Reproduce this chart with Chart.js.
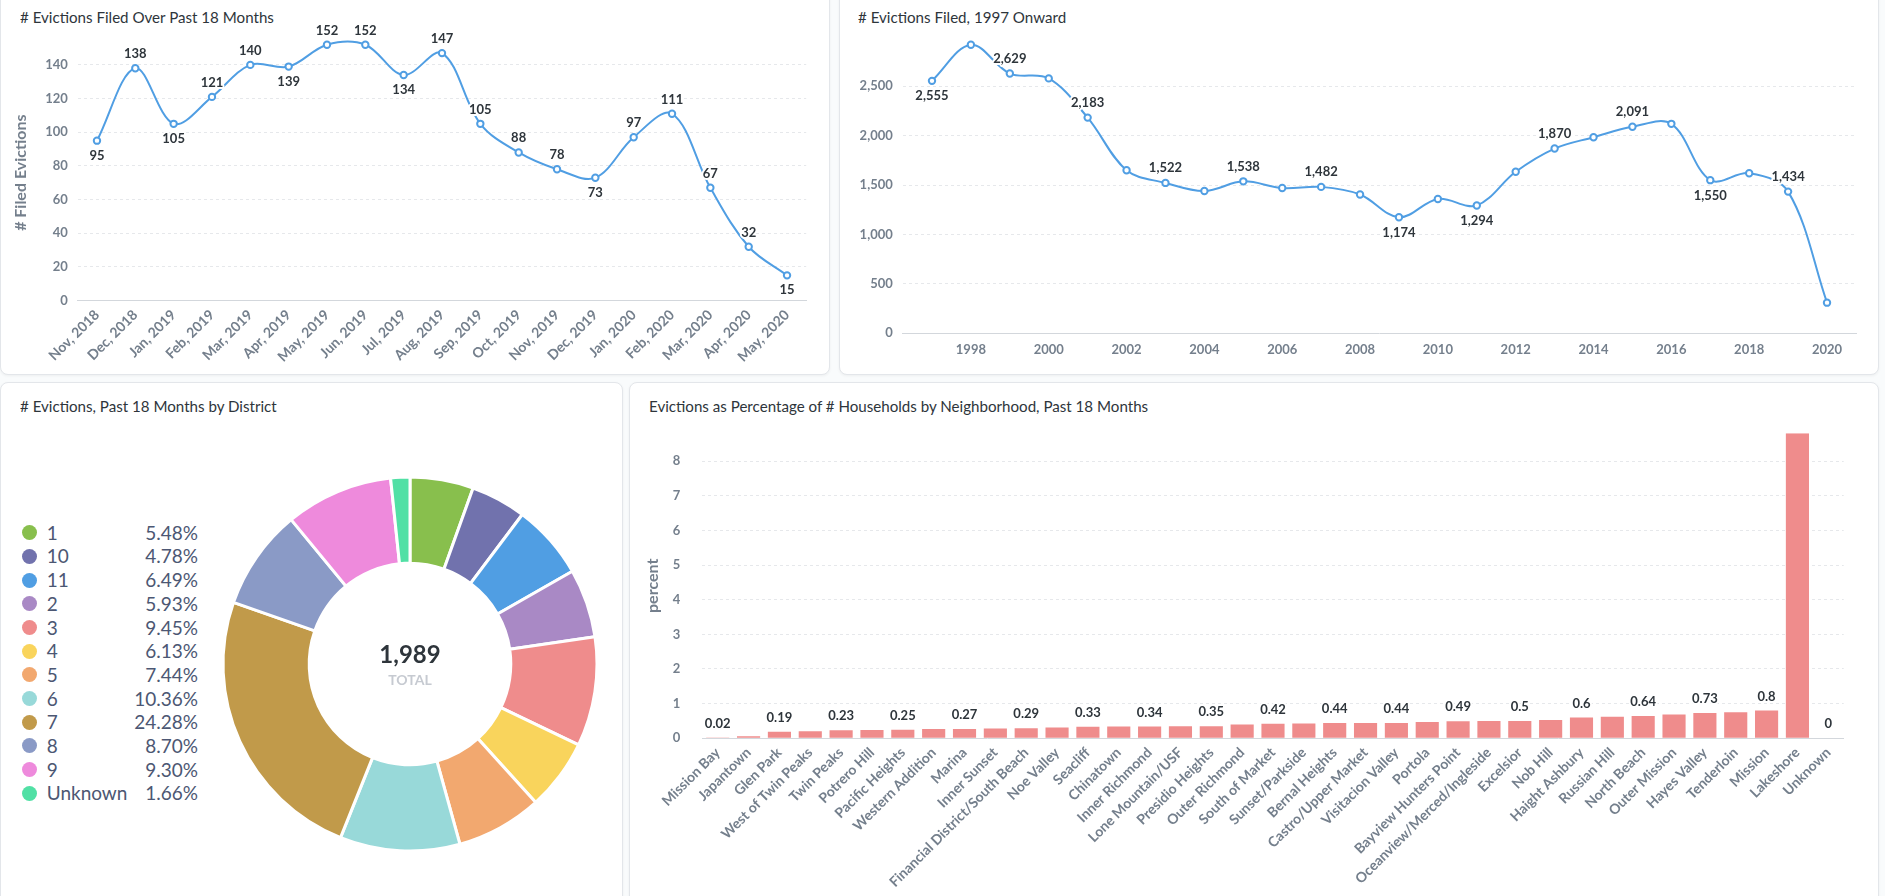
<!DOCTYPE html>
<html>
<head>
<meta charset="utf-8">
<script src="https://cdn.jsdelivr.net/npm/chart.js@4.4.1/dist/chart.umd.min.js"></script>
<style>
html,body{margin:0;padding:0;width:1885px;height:896px;overflow:hidden;background:#f9fbfc;font-family:Lato,"Noto Sans",sans-serif;}
.card{position:absolute;background:#fff;border:1px solid #e3e6ea;border-radius:8px;box-shadow:0 1px 3px rgba(0,0,0,0.05);box-sizing:border-box;}
.title{position:absolute;font-size:16px;line-height:18px;color:#2e353b;white-space:nowrap;transform:scaleX(0.945);transform-origin:0 50%;}
canvas{position:absolute;}
#legend{position:absolute;left:0;top:520.8px;width:198px;}
.row{position:relative;height:23.7px;line-height:23.7px;font-size:19px;color:#4c5773;}
.dot{position:absolute;left:21.5px;top:4.35px;width:15px;height:15px;border-radius:50%;}
.lab{position:absolute;left:46.7px;}
.pct{position:absolute;right:0;}
</style>
</head>
<body>
<div class="card" style="left:0;top:-8px;width:830px;height:383px;"></div>
<div class="card" style="left:839px;top:-8px;width:1040px;height:383px;"></div>
<div class="card" style="left:0;top:382px;width:623px;height:530px;"></div>
<div class="card" style="left:629px;top:382px;width:1250px;height:530px;"></div>

<div class="title" style="left:20px;top:8px;"># Evictions Filed Over Past 18 Months</div>
<div class="title" style="left:858px;top:8px;"># Evictions Filed, 1997 Onward</div>
<div class="title" style="left:20px;top:397px;"># Evictions, Past 18 Months by District</div>
<div class="title" style="left:649px;top:397px;">Evictions as Percentage of # Households by Neighborhood, Past 18 Months</div>

<canvas id="cA" width="830" height="375" style="left:0;top:0;"></canvas>
<canvas id="cB" width="1040" height="375" style="left:839px;top:0;"></canvas>
<canvas id="cC" width="400" height="400" style="left:210px;top:463.7px;"></canvas>
<canvas id="cD" width="1250" height="514" style="left:629px;top:382px;"></canvas>
<div id="legend"></div>

<script>
// ---- Data ----
const monthLabels = ["Nov, 2018","Dec, 2018","Jan, 2019","Feb, 2019","Mar, 2019","Apr, 2019","May, 2019","Jun, 2019","Jul, 2019","Aug, 2019","Sep, 2019","Oct, 2019","Nov, 2019","Dec, 2019","Jan, 2020","Feb, 2020","Mar, 2020","Apr, 2020","May, 2020"];
const monthlyFiled = [95,138,105,121,140,139,152,152,134,147,105,88,78,73,97,111,67,32,15];
const monthlyTicks = [0,20,40,60,80,100,120,140];

const years = [1997,1998,1999,2000,2001,2002,2003,2004,2005,2006,2007,2008,2009,2010,2011,2012,2013,2014,2015,2016,2017,2018,2019,2020];
const yearlyFiled = [2555,2920,2629,2580,2183,1650,1522,1440,1538,1470,1482,1405,1174,1360,1294,1635,1870,1985,2091,2120,1550,1620,1434,310];
const yearTicks = [1998,2000,2002,2004,2006,2008,2010,2012,2014,2016,2018,2020];
const yearlyTicks = [0,500,1000,1500,2000,2500];

const districts = ["1","10","11","2","3","4","5","6","7","8","9","Unknown"];
const districtCounts = [109,95,129,118,188,122,148,206,483,173,185,33];
const districtColors = ["#88BF4D","#7172AD","#509EE3","#A989C5","#EF8C8C","#F9D45C","#F2A86F","#98D9D9","#C19A4A","#8A9AC6","#EE8ADC","#51E0A5"];

const neighborhoods = ["Mission Bay","Japantown","Glen Park","West of Twin Peaks","Twin Peaks","Potrero Hill","Pacific Heights","Western Addition","Marina","Inner Sunset","Financial District/South Beach","Noe Valley","Seacliff","Chinatown","Inner Richmond","Lone Mountain/USF","Presidio Heights","Outer Richmond","South of Market","Sunset/Parkside","Bernal Heights","Castro/Upper Market","Visitacion Valley","Portola","Bayview Hunters Point","Oceanview/Merced/Ingleside","Excelsior","Nob Hill","Haight Ashbury","Russian Hill","North Beach","Outer Mission","Hayes Valley","Tenderloin","Mission","Lakeshore","Unknown"];
const pctHouseholds = [0.02,0.06,0.19,0.20,0.23,0.24,0.25,0.27,0.27,0.28,0.29,0.31,0.33,0.34,0.34,0.35,0.35,0.40,0.42,0.43,0.44,0.44,0.44,0.47,0.49,0.50,0.50,0.53,0.60,0.62,0.64,0.69,0.73,0.75,0.80,8.80,0];
const pctTicks = [0,1,2,3,4,5,6,7,8];

// ---- Styles ----
Chart.defaults.font.family = "Lato, 'Noto Sans', sans-serif";
const tickColor = '#747f8c';
const gridColor = (c) => (c.tick && c.tick.value === 0) ? 'rgba(0,0,0,0)' : '#e6e8eb';
const tickFont = {size: 13, weight: 'bold'};
const xTickFont = {size: 14, weight: 'bold'};
const useTicks = (arr) => (s) => { s.ticks = arr.map(v => ({value: v})); };

function makeValueLabels(cfg) {
  return {
    id: 'valueLabels',
    afterDatasetsDraw(chart) {
      const meta = chart.getDatasetMeta(0);
      const vals = cfg.values;
      const ctx = chart.ctx;
      ctx.save();
      ctx.font = "bold 14px Lato, 'Noto Sans', sans-serif";
      ctx.textAlign = 'center';
      ctx.textBaseline = 'middle';
      ctx.lineJoin = 'round';
      meta.data.forEach((el, i) => {
        if (!cfg.show(i)) return;
        const v = vals[i];
        let below = false;
        if (cfg.flip) {
          const p = vals[i - 1], n = vals[i + 1];
          below = (p === undefined || v < p) && (n === undefined || v < n);
        }
        const y = below ? el.y + cfg.off : el.y - cfg.off;
        const t = cfg.fmt(v);
        ctx.save();
        ctx.translate(el.x, y);
        ctx.scale(0.93, 1);
        ctx.lineWidth = 4;
        ctx.strokeStyle = '#fff';
        ctx.strokeText(t, 0, 0);
        ctx.fillStyle = '#2e353b';
        ctx.fillText(t, 0, 0);
        ctx.restore();
      });
      ctx.restore();
    }
  };
}

const lineDataset = {
  borderColor: '#509EE3', borderWidth: 2, tension: 0.35,
  pointRadius: 3.2, pointBorderWidth: 2, pointBackgroundColor: '#fff', pointBorderColor: '#509EE3',
  fill: false, clip: false
};

// ---- Chart A ----
new Chart(document.getElementById('cA'), {
  type: 'line',
  data: {labels: monthLabels, datasets: [Object.assign({data: monthlyFiled}, lineDataset)]},
  options: {
    responsive: false, animation: false, events: [],
    layout: {padding: {top: 44.7, right: 23.8, left: 0, bottom: 0}},
    plugins: {legend: {display: false}, tooltip: {enabled: false}},
    elements: {line: {capBezierPoints: false}},
    scales: {
      x: {
        offset: true,
        grid: {display: false, drawTicks: false},
        border: {display: true, color: '#d3d7dc', width: 1},
        ticks: {color: tickColor, font: xTickFont, minRotation: 45, maxRotation: 45, autoSkip: false, padding: 6},
        afterFit: s => { s.height = 74.4; }
      },
      y: {
        min: 0, max: Math.max(...monthlyFiled),
        grid: {color: gridColor, drawTicks: false},
        border: {display: false, dash: [3, 3]},
        ticks: {padding: 10, color: tickColor, font: tickFont, autoSkip: false},
        afterBuildTicks: useTicks(monthlyTicks),
        title: {display: true, text: '# Filed Evictions', color: tickColor, font: {size: 16, weight: 'bold'}, padding: {top: 11, bottom: 0}},
        afterFit: s => { s.width = 77.8; }
      }
    }
  },
  plugins: [makeValueLabels({values: monthlyFiled, show: () => true, flip: true, off: 14.5, fmt: v => String(v)})]
});

// ---- Chart B ----
new Chart(document.getElementById('cB'), {
  type: 'line',
  data: {datasets: [Object.assign({data: years.map((y, i) => ({x: y, y: yearlyFiled[i]}))}, lineDataset)]},
  options: {
    responsive: false, animation: false, events: [],
    layout: {padding: {top: 44.8, right: 22.8, left: 0, bottom: 0}},
    plugins: {legend: {display: false}, tooltip: {enabled: false}},
    elements: {line: {capBezierPoints: false}},
    scales: {
      x: {
        type: 'linear', min: 1996.25, max: 2020.75,
        grid: {display: false, drawTicks: false},
        border: {display: true, color: '#d3d7dc', width: 1},
        ticks: {color: tickColor, font: tickFont, maxRotation: 0, autoSkip: false, padding: 9, callback: v => String(v)},
        afterBuildTicks: useTicks(yearTicks),
        afterFit: s => { s.height = 41.7; }
      },
      y: {
        min: 0, max: Math.max(...yearlyFiled),
        grid: {color: gridColor, drawTicks: false},
        border: {display: false, dash: [3, 3]},
        ticks: {padding: 10, color: tickColor, font: tickFont, autoSkip: false, callback: v => v.toLocaleString('en-US')},
        afterBuildTicks: useTicks(yearlyTicks),
        afterFit: s => { s.width = 63.8; }
      }
    }
  },
  plugins: [makeValueLabels({values: yearlyFiled, show: i => i % 2 === 0, flip: true, off: 15, fmt: v => v.toLocaleString('en-US')})]
});

// ---- Chart C (donut) ----
const totalEvictions = districtCounts.reduce((a, b) => a + b, 0);
new Chart(document.getElementById('cC'), {
  type: 'doughnut',
  data: {labels: districts, datasets: [{data: districtCounts, backgroundColor: districtColors, borderColor: '#fff', borderWidth: 3, hoverOffset: 0}]},
  options: {
    responsive: false, animation: false, events: [],
    radius: 187, cutout: 107,
    plugins: {legend: {display: false}, tooltip: {enabled: false}}
  },
  plugins: [{
    id: 'centerText',
    afterDraw(chart) {
      const arc = chart.getDatasetMeta(0).data[0];
      const ctx = chart.ctx;
      ctx.save();
      ctx.textAlign = 'center';
      ctx.textBaseline = 'middle';
      ctx.fillStyle = '#2e353b';
      ctx.font = "bold 24px Lato, 'Noto Sans', sans-serif";
      ctx.fillText(totalEvictions.toLocaleString('en-US'), arc.x, arc.y - 8.7);
      ctx.fillStyle = '#c6cad1';
      ctx.font = "bold 14px Lato, 'Noto Sans', sans-serif";
      ctx.fillText('TOTAL', arc.x, arc.y + 16.3);
      ctx.restore();
    }
  }]
});

// HTML legend built from arrays
const legendEl = document.getElementById('legend');
districts.forEach((d, i) => {
  const row = document.createElement('div');
  row.className = 'row';
  const dot = document.createElement('span'); dot.className = 'dot'; dot.style.background = districtColors[i];
  const lab = document.createElement('span'); lab.className = 'lab'; lab.textContent = d;
  const pct = document.createElement('span'); pct.className = 'pct';
  pct.textContent = (districtCounts[i] / totalEvictions * 100).toFixed(2) + '%';
  row.appendChild(dot); row.appendChild(lab); row.appendChild(pct);
  legendEl.appendChild(row);
});

// ---- Chart D (bars) ----
new Chart(document.getElementById('cD'), {
  type: 'bar',
  data: {labels: neighborhoods, datasets: [{data: pctHouseholds, backgroundColor: '#EF8C8C', barPercentage: 0.75, categoryPercentage: 1}]},
  options: {
    responsive: false, animation: false, events: [],
    layout: {padding: {top: 51.3, right: 35.3, left: 0, bottom: 0}},
    plugins: {legend: {display: false}, tooltip: {enabled: false}},
    scales: {
      x: {
        grid: {display: false, drawTicks: false},
        border: {display: true, color: '#d3d7dc', width: 1},
        ticks: {color: tickColor, font: xTickFont, minRotation: 45, maxRotation: 45, autoSkip: false, padding: 6},
        afterFit: s => { s.height = 157.7; }
      },
      y: {
        min: 0, max: Math.max(...pctHouseholds),
        grid: {color: gridColor, drawTicks: false},
        border: {display: false, dash: [3, 3]},
        ticks: {padding: 22, color: tickColor, font: tickFont, autoSkip: false},
        afterBuildTicks: useTicks(pctTicks),
        title: {display: true, text: 'percent', color: tickColor, font: {size: 16, weight: 'bold'}, padding: {top: 14, bottom: 0}},
        afterFit: s => { s.width = 73.3; }
      }
    }
  },
  plugins: [makeValueLabels({values: pctHouseholds, show: i => i % 2 === 0, flip: false, off: 14.5, fmt: v => String(v)})]
});
</script>
</body>
</html>
